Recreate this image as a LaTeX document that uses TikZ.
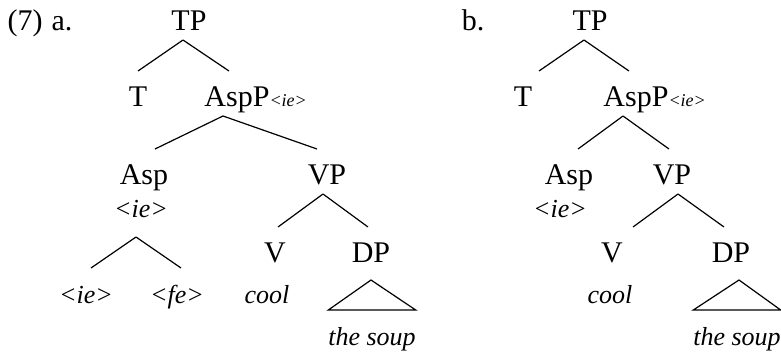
\documentclass[tikz,border=0pt]{standalone}
\usepackage{fontspec}
\setmainfont{Liberation Serif}
\newcommand{\sublab}[1]{\rlap{\fontsize{9}{10}\selectfont\textit{#1}}}
\begin{document}
\begin{tikzpicture}[x=0.5pt,y=-0.5pt,line width=0.6pt,
    cat/.style={anchor=base,inner sep=0pt,outer xsep=0pt,outer ysep=5pt,
      text height=12.5pt,text depth=0pt,font=\fontsize{15}{18}\selectfont},
    wd/.style={cat,font=\fontsize{13}{16}\selectfont\itshape}]
  \useasboundingbox (0,0) rectangle (781,354);
  % (7) a.
  \node[cat] (num) at (25,30) {(7)};
  \node[cat] (la) at (62,30) {a.};
  \node[cat] (tpa) at (189,30) {TP};
  \node[cat] (ta) at (138,106) {T};
  \node[cat] (asppa) at (237,106) {AspP\sublab{<ie>}};
  \node[cat] (aspa) at (144,184) {Asp};
  \node[wd,outer ysep=10pt] (aspia) at (141,217) {<ie>};
  \node[cat] (vpa) at (327,184) {VP};
  \node[wd] (iea) at (86,303) {<ie>};
  \node[wd] (fea) at (177,303) {<fe>};
  \node[cat] (va) at (275,262) {V};
  \node[cat] (dpa) at (371,262) {DP};
  \node[wd] (coola) at (267,303) {cool};
  \node[wd] (soupa) at (372,345) {the soup};
  \draw ([xshift=-3pt]tpa.south) -- (ta.north);
  \draw ([xshift=-3pt]tpa.south) -- ([xshift=-4pt]asppa.north);
  \draw ([xshift=-7pt]asppa.south) -- ([xshift=5.5pt]aspa.north);
  \draw ([xshift=-7pt]asppa.south) -- ([xshift=-5pt]vpa.north);
  \draw ([xshift=-2.5pt]aspia.south) -- ([xshift=2.5pt]iea.north);
  \draw ([xshift=-2.5pt]aspia.south) -- ([xshift=2pt]fea.north);
  \draw ([xshift=-2pt]vpa.south) -- ([xshift=1.5pt]va.north);
  \draw ([xshift=-2pt]vpa.south) -- ([xshift=-1.5pt]dpa.north);
  \draw ([yshift=-4pt]dpa.south) -- (soupa.north west) -- (soupa.north east) -- cycle;
  % b.
  \node[cat] (lb) at (473,30) {b.};
  \node[cat] (tpb) at (590,30) {TP};
  \node[cat] (tb) at (523,106) {T};
  \node[cat] (asppb) at (636,106) {AspP\sublab{<ie>}};
  \node[cat] (aspb) at (569,184) {Asp};
  \node[wd] (aspib) at (560,217) {<ie>};
  \node[cat] (vpb) at (672,184) {VP};
  \node[cat] (vb) at (612,262) {V};
  \node[cat] (dpb) at (731,262) {DP};
  \node[wd] (coolb) at (610,303) {cool};
  \node[wd] (soupb) at (737,345) {the soup};
  \draw ([xshift=-3pt]tpb.south) -- ([xshift=8pt]tb.north);
  \draw ([xshift=-3pt]tpb.south) -- ([xshift=-3.5pt]asppb.north);
  \draw ([xshift=-6.5pt]asppb.south) -- ([xshift=4.5pt]aspb.north);
  \draw ([xshift=-6.5pt]asppb.south) -- ([xshift=-1.5pt]vpb.north);
  \draw ([xshift=3pt]vpb.south) -- ([xshift=10.5pt]vb.north);
  \draw ([xshift=3pt]vpb.south) -- ([xshift=-3.5pt]dpb.north);
  \draw ([xshift=4pt,yshift=-4pt]dpb.south) -- (soupb.north west) -- (soupb.north east) -- cycle;
\end{tikzpicture}
\end{document}
